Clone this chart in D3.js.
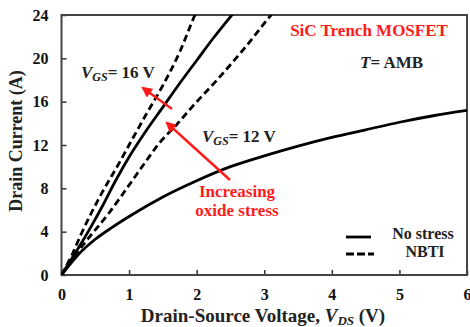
<!DOCTYPE html>
<html>
<head>
<meta charset="utf-8">
<script src="https://cdn.jsdelivr.net/npm/d3@7"></script>
<style>
  html, body { margin: 0; padding: 0; background: #fff; }
  svg { display: block; }
  text { font-family: "Liberation Serif", "Times New Roman", serif; font-weight: bold; }
</style>
</head>
<body>
<svg id="chart" width="470" height="327"></svg>
<script>
// Output characteristics (V_DS in V, I_D in A)
const vgs12NoStressV = [0, 0.25, 0.5, 0.75, 1.0, 1.5, 2.0, 2.5, 3.0, 3.5, 4.0, 4.5, 5.0, 5.5, 6.0];
const vgs12NoStressI = [0, 1.9, 3.3, 4.4, 5.4, 7.2, 8.7, 10.0, 11.0, 11.9, 12.7, 13.4, 14.1, 14.7, 15.2];

const vgs16NoStressV = [0, 0.15, 0.3, 0.45, 0.6, 0.8, 1.0, 1.25, 1.5, 1.75, 2.0, 2.25, 2.52, 2.7];
const vgs16NoStressI = [0, 1.5, 3.0, 4.6, 6.3, 8.7, 10.9, 13.3, 15.5, 17.7, 19.8, 21.9, 24.0, 25.4];

const nbtiUpperV = [0, 0.15, 0.3, 0.6, 0.85, 1.0, 1.25, 1.5, 1.75, 1.975, 2.1];
const nbtiUpperI = [0, 1.8, 3.9, 7.6, 10.3, 12.0, 14.8, 17.5, 20.6, 24.0, 25.6];

const nbtiLowerV = [0, 0.2, 0.4, 0.7, 1.0, 1.25, 1.45, 1.7, 1.93, 2.3, 2.69, 3.1, 3.3];
const nbtiLowerI = [0, 1.8, 3.4, 5.7, 8.3, 10.5, 12.2, 13.85, 15.5, 18.0, 20.8, 24.0, 25.5];

const xTicks = [0, 1, 2, 3, 4, 5, 6];
const yTicks = [0, 4, 8, 12, 16, 20, 24];

const svg = d3.select("#chart");
const serif = '"Liberation Serif", "Times New Roman", serif';

const x = d3.scaleLinear().domain([0, 6]).range([61.5, 467]);
const y = d3.scaleLinear().domain([0, 24]).range([275, 15]);

const red = "#ff1a1a";

// arrow head marker
const defs = svg.append("defs");
defs.append("marker")
  .attr("id", "head")
  .attr("viewBox", "0 0 10 10")
  .attr("refX", 8).attr("refY", 5)
  .attr("markerWidth", 5).attr("markerHeight", 4.5)
  .attr("markerUnits", "strokeWidth")
  .attr("orient", "auto")
  .append("path").attr("d", "M0,0 L10,5 L0,10 Z").attr("fill", red);

defs.append("clipPath").attr("id", "plotClip")
  .append("rect")
  .attr("x", x(0)).attr("y", y(24))
  .attr("width", x(6) - x(0)).attr("height", y(0) - y(24));

// axes with inward ticks
const xAxis = d3.axisBottom(x).tickValues(xTicks).tickSize(-5).tickPadding(14).tickFormat(d3.format("d"));
const yAxis = d3.axisLeft(y).tickValues(yTicks).tickSize(-5).tickPadding(13).tickFormat(d3.format("d"));

const gx = svg.append("g").attr("transform", `translate(0,${y(0)})`).call(xAxis);
const gy = svg.append("g").attr("transform", `translate(${x(0)},0)`).call(yAxis);
[gx, gy].forEach(g => {
  g.attr("font-family", serif).attr("font-size", 16);
  g.select(".domain").remove();
  g.selectAll(".tick line").attr("stroke", "#333").attr("stroke-width", 1.5);
  g.selectAll(".tick text").attr("fill", "#111")
    .style("font-family", serif).style("font-weight", "bold").style("font-size", "16px");
});

// frame
svg.append("rect")
  .attr("x", x(0)).attr("y", y(24))
  .attr("width", x(6) - x(0)).attr("height", y(0) - y(24))
  .attr("fill", "none").attr("stroke", "#444").attr("stroke-width", 2);

// curves
const line = d3.line().x(d => x(d[0])).y(d => y(d[1])).curve(d3.curveMonotoneX);
const curves = [
  { v: vgs12NoStressV, i: vgs12NoStressI, dash: null },
  { v: vgs16NoStressV, i: vgs16NoStressI, dash: null },
  { v: nbtiUpperV, i: nbtiUpperI, dash: "7,4" },
  { v: nbtiLowerV, i: nbtiLowerI, dash: "7,4" }
];
const gCurves = svg.append("g").attr("clip-path", "url(#plotClip)");
curves.forEach(c => {
  gCurves.append("path")
    .datum(c.v.map((v, k) => [v, c.i[k]]))
    .attr("d", line)
    .attr("fill", "none")
    .attr("stroke", "#000")
    .attr("stroke-width", 2.8)
    .attr("stroke-dasharray", c.dash);
});

// arrows
svg.append("line")
  .attr("x1", 172).attr("y1", 109).attr("x2", 143).attr("y2", 88)
  .attr("stroke", red).attr("stroke-width", 2.4).attr("marker-end", "url(#head)");
svg.append("line")
  .attr("x1", 230).attr("y1", 180).attr("x2", 167).attr("y2", 123)
  .attr("stroke", red).attr("stroke-width", 2.4).attr("marker-end", "url(#head)");

// annotation text
function vgsLabel(xp, yp, val) {
  const t = svg.append("text").attr("x", xp).attr("y", yp).style("font-size", "17px").attr("fill", "#222");
  t.append("tspan").style("font-style", "italic").text("V");
  t.append("tspan").style("font-style", "italic").style("font-size", "12px").attr("dy", 3).text("GS");
  t.append("tspan").attr("dy", -3).text("= " + val + " V");
}
vgsLabel(81, 78, 16);
vgsLabel(202, 142, 12);

svg.append("text").attr("x", 369).attr("y", 36).attr("text-anchor", "middle")
  .style("font-size", "17px").attr("fill", red).text("SiC Trench MOSFET");

const tT = svg.append("text").attr("x", 360).attr("y", 68).style("font-size", "17px").attr("fill", "#222");
tT.append("tspan").style("font-style", "italic").text("T");
tT.append("tspan").text("= AMB");

svg.append("text").attr("x", 237).attr("y", 197).attr("text-anchor", "middle")
  .style("font-size", "17px").attr("fill", red).text("Increasing");
svg.append("text").attr("x", 237).attr("y", 216).attr("text-anchor", "middle")
  .style("font-size", "17px").attr("fill", red).text("oxide stress");

// legend
svg.append("line").attr("x1", 346).attr("x2", 371).attr("y1", 237).attr("y2", 237)
  .attr("stroke", "#000").attr("stroke-width", 2.8);
svg.append("line").attr("x1", 346).attr("x2", 374).attr("y1", 254).attr("y2", 254)
  .attr("stroke", "#000").attr("stroke-width", 2.8).attr("stroke-dasharray", "8,3");
svg.append("text").attr("x", 423).attr("y", 239).attr("text-anchor", "middle")
  .style("font-size", "16px").attr("fill", "#222").text("No stress");
svg.append("text").attr("x", 425).attr("y", 257).attr("text-anchor", "middle")
  .style("font-size", "16px").attr("fill", "#222").text("NBTI");

// axis titles
const xt = svg.append("text").attr("x", 263).attr("y", 322).attr("text-anchor", "middle")
  .style("font-size", "19px").attr("fill", "#222");
xt.append("tspan").text("Drain-Source Voltage, ");
xt.append("tspan").style("font-style", "italic").text("V");
xt.append("tspan").style("font-style", "italic").style("font-size", "13px").attr("dy", 3).text("DS");
xt.append("tspan").attr("dy", -3).text(" (V)");

svg.append("text").attr("transform", "translate(22,141) rotate(-90)").attr("text-anchor", "middle")
  .style("font-size", "18px").attr("fill", "#222").text("Drain Current (A)");
</script>
</body>
</html>
